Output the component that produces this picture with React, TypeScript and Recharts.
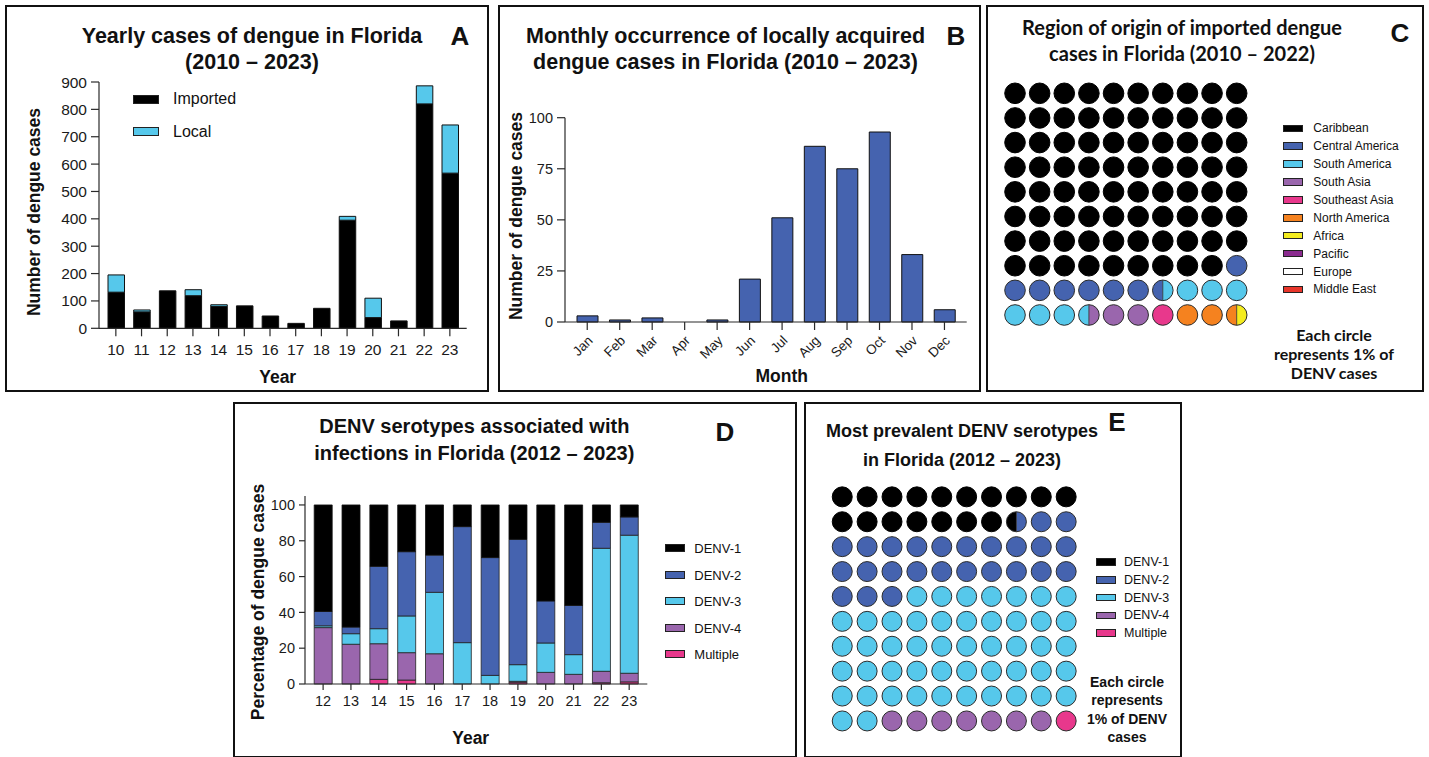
import React from "react"
import { BarChart, Bar, XAxis, YAxis, ScatterChart, Scatter } from "recharts"

const FONT = '"Liberation Sans", Arial, sans-serif'
const CAL = 'Lato, "Open Sans", sans-serif'

const BLACK = "#000000"
const CYAN = "#56C8EB"
const BLUE = "#4563AF"
const PURPLE = "#9A66AD"
const PINK = "#E8388C"
const ORANGE = "#F5821F"
const YELLOW = "#F4EC1E"
const PACIFIC = "#8B2B8F"
const WHITE = "#FFFFFF"
const RED = "#E8362B"
const INK = "#1a1a1a"

// A: yearly cases
const yearsA = ["10", "11", "12", "13", "14", "15", "16", "17", "18", "19", "20", "21", "22", "23"]
const importedA = [132, 60, 137, 119, 80, 82, 45, 18, 73, 395, 39, 27, 820, 567]
const localA = [63, 7, 0, 22, 6, 0, 0, 0, 0, 14, 71, 0, 66, 176]
const ticksA = [0, 100, 200, 300, 400, 500, 600, 700, 800, 900]

// B: monthly local cases
const months = ["Jan", "Feb", "Mar", "Apr", "May", "Jun", "Jul", "Aug", "Sep", "Oct", "Nov", "Dec"]
const localMonthly = [3, 1, 2, 0, 1, 21, 51, 86, 75, 93, 33, 6]
const ticksB = [0, 25, 50, 75, 100]

// C: region of origin (% of imported cases)
const regions = ["Caribbean", "Central America", "South America", "South Asia", "Southeast Asia", "North America", "Africa", "Pacific", "Europe", "Middle East"]
const regionColors = [BLACK, BLUE, CYAN, PURPLE, PINK, ORANGE, YELLOW, PACIFIC, WHITE, RED]
const regionPct = [79, 7.5, 7, 2.5, 1, 2.5, 0.5, 0, 0, 0]

// D: serotypes by year (%)
const yearsD = ["12", "13", "14", "15", "16", "17", "18", "19", "20", "21", "22", "23"]
const multipleD = [0, 0, 2.6, 2.2, 0, 0, 0, 1, 0, 0, 0.7, 1.2]
const denv4D = [31.5, 22.2, 19.9, 15.3, 16.9, 0, 0, 0.5, 6.5, 5.4, 6.4, 4.8]
const denv3D = [1, 5.9, 8.4, 20.5, 34.3, 23.1, 4.8, 9.3, 16.4, 11, 68.7, 77.1]
const denv2D = [8, 3.7, 34.8, 35.9, 20.8, 64.8, 65.8, 70, 23.5, 27.5, 14.5, 10.2]
const denv1D = [59.5, 68.2, 34.3, 26.1, 28, 12.1, 29.4, 19.2, 53.6, 56.1, 9.7, 6.7]
const ticksD = [0, 20, 40, 60, 80, 100]

// E: overall serotypes (%)
const serotypes = ["DENV-1", "DENV-2", "DENV-3", "DENV-4", "Multiple"]
const serotypeColors = [BLACK, BLUE, CYAN, PURPLE, PINK]
const serotypePct = [17.5, 25.5, 49, 7, 1]

const dataA = yearsA.map((y, i) => ({ year: y, imported: importedA[i], local: localA[i] }))
const dataB = months.map((m, i) => ({ month: m, cases: localMonthly[i] }))
const dataD = yearsD.map((y, i) => ({
  year: y, multiple: multipleD[i], d4: denv4D[i], d3: denv3D[i], d2: denv2D[i], d1: denv1D[i],
}))

// each circle = 1%, split in halves so 0.5% shows as a half circle
function buildWaffle(pct: number[]) {
  const halves: number[] = []
  pct.forEach((p, k) => {
    for (let i = 0; i < Math.round(p * 2); i++) halves.push(k)
  })
  const cells = []
  for (let i = 0; i < 100; i++) {
    cells.push({ col: (i % 10) + 1, row: Math.floor(i / 10) + 1, left: halves[2 * i], right: halves[2 * i + 1] })
  }
  return cells
}

const cellsC = buildWaffle(regionPct)
const cellsE = buildWaffle(serotypePct)

function WaffleDot(props: any) {
  const { cx, cy, payload, r, colors } = props
  const a = colors[payload.left]
  const b = colors[payload.right]
  const edge = "#2b2b2b"
  if (a === b) {
    return <circle cx={cx} cy={cy} r={r} fill={a} stroke={a === BLACK ? BLACK : edge} strokeWidth={1} />
  }
  return (
    <g>
      <path d={`M${cx},${cy - r} A${r},${r} 0 0 0 ${cx},${cy + r} Z`} fill={a} />
      <path d={`M${cx},${cy - r} A${r},${r} 0 0 1 ${cx},${cy + r} Z`} fill={b} />
      <line x1={cx} y1={cy - r} x2={cx} y2={cy + r} stroke={edge} strokeWidth={0.8} />
      <circle cx={cx} cy={cy} r={r} fill="none" stroke={edge} strokeWidth={1} />
    </g>
  )
}

function MonthTick({ x, y, payload }: any) {
  return (
    <text
      transform={`translate(${x + 3},${y + 6}) rotate(-45)`}
      textAnchor="end"
      dy="0.35em"
      fontSize={13.5}
      fill={INK}
      fontFamily={FONT}
    >
      {payload.value}
    </text>
  )
}

function T({ x, y, size, bold, children, font = FONT, rotate, lh, left }: any) {
  return (
    <div
      style={{
        position: "absolute",
        left: x,
        top: y,
        transform: `translate(${left ? "0" : "-50%"}, -50%)${rotate ? ` rotate(${rotate}deg)` : ""}`,
        fontFamily: font,
        fontSize: size,
        fontWeight: bold ? 700 : 400,
        whiteSpace: "nowrap",
        textAlign: "center",
        lineHeight: lh ? `${lh}px` : "normal",
        color: "#111",
      }}
    >
      {children}
    </div>
  )
}

function Box({ l, t, w, h }: any) {
  return (
    <div
      style={{
        position: "absolute", left: l, top: t, width: w, height: h,
        border: "2.5px solid #111", boxSizing: "border-box",
      }}
    />
  )
}

function Swatch({ x, y, w, h, color }: any) {
  return (
    <div
      style={{
        position: "absolute", left: x, top: y - h / 2, width: w, height: h,
        background: color, border: "1px solid #222", boxSizing: "border-box",
      }}
    />
  )
}

function Place({ l, t, children }: any) {
  return <div style={{ position: "absolute", left: l, top: t }}>{children}</div>
}

const axisStyle = { stroke: "#2a2a2a", strokeWidth: 1.2 }

export default function App() {
  return (
    <div style={{ position: "absolute", left: 0, top: 0, width: 1429, height: 757, background: "#fff", overflow: "hidden" }}>
      <Box l={5} t={5} w={484} h={387} />
      <Box l={497.5} t={5} w={483} h={387} />
      <Box l={986} t={5} w={438} h={387} />
      <Box l={233} t={402} w={563.5} h={356} />
      <Box l={803.5} t={402} w={378} h={356} />

      {/* A */}
      <Place l={0} t={0}>
        <BarChart width={490} height={395} data={dataA} margin={{ top: 82, right: 23.3, bottom: 36.7, left: 39 }}>
          <XAxis dataKey="year" height={30} padding={{ left: 4, right: 4 }} axisLine={axisStyle} tickLine={axisStyle}
            tickSize={8} tickMargin={8} tick={{ fontSize: 15.5, fill: INK, fontFamily: FONT }} interval={0} />
          <YAxis width={60} domain={[0, 900]} ticks={ticksA} axisLine={axisStyle} tickLine={axisStyle}
            tickSize={8} tickMargin={4} tick={{ fontSize: 15.5, fill: INK, fontFamily: FONT }} interval={0} />
          <Bar dataKey="imported" stackId="a" fill={BLACK} stroke="#111" strokeWidth={1} barSize={16.5} isAnimationActive={false} />
          <Bar dataKey="local" stackId="a" fill={CYAN} stroke="#111" strokeWidth={1} barSize={16.5} isAnimationActive={false} />
        </BarChart>
      </Place>
      <T x={252} y={49} size={21.5} bold lh={26}>Yearly cases of dengue in Florida<br />(2010 – 2023)</T>
      <T x={460} y={36} size={26} bold>A</T>
      <T x={34.3} y={211.7} size={17.5} bold rotate={-90}>Number of dengue cases</T>
      <T x={277.7} y={376.5} size={17.5} bold>Year</T>
      <Swatch x={133} y={99} w={26} h={9} color={BLACK} />
      <Swatch x={133} y={131} w={26} h={9} color={CYAN} />
      <T x={173} y={99} size={16} left>Imported</T>
      <T x={173} y={131.5} size={16} left>Local</T>

      {/* B */}
      <Place l={495} t={0}>
        <BarChart width={490} height={395} data={dataB} margin={{ top: 117.7, right: 18.3, bottom: 33, left: 10 }}>
          <XAxis dataKey="month" height={40} padding={{ left: 6, right: 6 }} axisLine={axisStyle} tickLine={axisStyle}
            tickSize={8} tickMargin={2} tick={<MonthTick />} interval={0} />
          <YAxis width={60} domain={[0, 100]} ticks={ticksB} axisLine={axisStyle} tickLine={axisStyle}
            tickSize={8} tickMargin={4} tick={{ fontSize: 14.5, fill: INK, fontFamily: FONT }} interval={0} />
          <Bar dataKey="cases" fill={BLUE} stroke="#111" strokeWidth={1} barSize={21} isAnimationActive={false} />
        </BarChart>
      </Place>
      <T x={725.5} y={49} size={21.5} bold lh={26}>Monthly occurrence of locally acquired<br />dengue cases in Florida (2010 – 2023)</T>
      <T x={956} y={36} size={26} bold>B</T>
      <T x={515.7} y={215.8} size={17.5} bold rotate={-90}>Number of dengue cases</T>
      <T x={781.7} y={376} size={17.5} bold>Month</T>

      {/* C */}
      <Place l={986} t={5}>
        <ScatterChart width={438} height={387} margin={{ top: 76, right: 175, bottom: 64.7, left: 16.7 }}>
          <XAxis type="number" dataKey="col" domain={[0.5, 10.5]} hide />
          <YAxis type="number" dataKey="row" domain={[0.5, 10.5]} reversed hide />
          <Scatter data={cellsC} isAnimationActive={false}
            shape={(p: any) => <WaffleDot {...p} r={10.3} colors={regionColors} />} />
        </ScatterChart>
      </Place>
      <T x={1182} y={40} size={20} bold font={CAL} lh={26}>Region of origin of imported dengue<br />cases in Florida (2010 – 2022)</T>
      <T x={1400} y={33} size={26} bold>C</T>
      {regions.map((r, i) => (
        <React.Fragment key={r}>
          <Swatch x={1283} y={128.3 + i * 17.9} w={19.5} h={7.5} color={regionColors[i]} />
          <T x={1313.3} y={128.3 + i * 17.9} size={12} left>{r}</T>
        </React.Fragment>
      ))}
      <T x={1334} y={354} size={16} bold font={CAL} lh={18.8}>Each circle<br />represents 1% of<br />DENV cases</T>

      {/* D */}
      <Place l={233} t={400}>
        <BarChart width={565} height={357} data={dataD} margin={{ top: 96, right: 150.7, bottom: 43, left: 12 }}>
          <XAxis dataKey="year" height={30} padding={{ left: 4.2, right: 4.2 }} axisLine={axisStyle} tickLine={axisStyle}
            tickSize={6} tickMargin={6} tick={{ fontSize: 14.5, fill: INK, fontFamily: FONT }} interval={0} />
          <YAxis width={60} domain={[0, 105]} ticks={ticksD} axisLine={axisStyle} tickLine={axisStyle}
            tickSize={6} tickMargin={4} tick={{ fontSize: 14.5, fill: INK, fontFamily: FONT }} interval={0} />
          <Bar dataKey="multiple" stackId="s" fill={PINK} stroke="#222" strokeWidth={0.8} barSize={18} isAnimationActive={false} />
          <Bar dataKey="d4" stackId="s" fill={PURPLE} stroke="#222" strokeWidth={0.8} barSize={18} isAnimationActive={false} />
          <Bar dataKey="d3" stackId="s" fill={CYAN} stroke="#222" strokeWidth={0.8} barSize={18} isAnimationActive={false} />
          <Bar dataKey="d2" stackId="s" fill={BLUE} stroke="#222" strokeWidth={0.8} barSize={18} isAnimationActive={false} />
          <Bar dataKey="d1" stackId="s" fill={BLACK} stroke="#111" strokeWidth={0.8} barSize={18} isAnimationActive={false} />
        </BarChart>
      </Place>
      <T x={474.3} y={440} size={20} bold lh={26.6}>DENV serotypes associated with<br />infections in Florida (2012 – 2023)</T>
      <T x={725} y={432} size={26} bold>D</T>
      <T x={258.3} y={601.7} size={17.5} bold rotate={-90}>Percentage of dengue cases</T>
      <T x={470.7} y={737.7} size={17.5} bold>Year</T>
      {serotypes.map((s, i) => (
        <React.Fragment key={s}>
          <Swatch x={665} y={548.3 + i * 26.5} w={20} h={8} color={serotypeColors[i]} />
          <T x={694.3} y={548.3 + i * 26.5} size={13} left>{s}</T>
        </React.Fragment>
      ))}

      {/* E */}
      <Place l={803.5} t={402}>
        <ScatterChart width={378} height={355} margin={{ top: 82.4, right: 103.4, bottom: 23.6, left: 25.8 }}>
          <XAxis type="number" dataKey="col" domain={[0.5, 10.5]} hide />
          <YAxis type="number" dataKey="row" domain={[0.5, 10.5]} reversed hide />
          <Scatter data={cellsE} isAnimationActive={false}
            shape={(p: any) => <WaffleDot {...p} r={10} colors={serotypeColors} />} />
        </ScatterChart>
      </Place>
      <T x={962} y={445.5} size={18} bold lh={29}>Most prevalent DENV serotypes<br />in Florida (2012 – 2023)</T>
      <T x={1117} y={422} size={26} bold>E</T>
      {serotypes.map((s, i) => (
        <React.Fragment key={s + "e"}>
          <Swatch x={1096} y={562 + i * 17.8} w={20} h={7.5} color={serotypeColors[i]} />
          <T x={1124} y={562 + i * 17.8} size={12.5} left>{s}</T>
        </React.Fragment>
      ))}
      <T x={1127} y={710} size={14} bold lh={18.3}>Each circle<br />represents<br />1% of DENV<br />cases</T>
    </div>
  )
}
